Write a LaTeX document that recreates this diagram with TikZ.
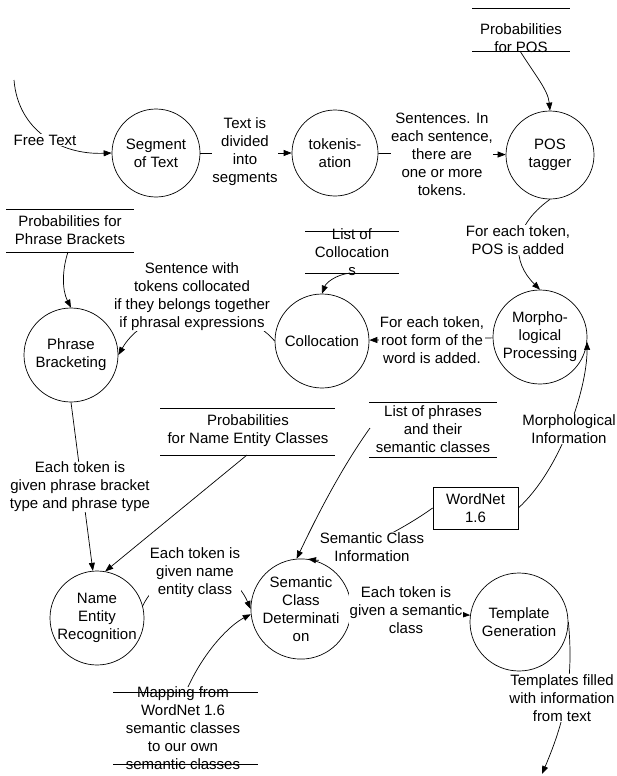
\documentclass[tikz,border=0pt]{standalone}
\usepackage{fontspec}
\setmainfont{Liberation Sans}
\usetikzlibrary{arrows.meta}
\begin{document}
\begin{tikzpicture}[x=1pt,y=-1pt,
  every node/.style={font=\fontsize{15}{18}\selectfont, align=center, inner sep=0pt},
  proc/.style={draw, circle, minimum size=#1, line width=0.7pt},
  lab/.style={fill=white, inner sep=0.5pt},
  arr/.style={line width=0.7pt, -{Triangle[length=8pt,width=6pt]}},
  storeline/.style={line width=0.7pt}]
\fill[white] (0,0) rectangle (617,776);
\useasboundingbox (0,0) rectangle (617,776);

% processes
\node[proc=88] (seg) at (156,153) {Segment\\of Text};
\node[proc=86] (tok) at (335,153) {tokenis-\\ation};
\node[proc=88] (pos) at (550,155) {POS\\tagger};
\node[proc=94] (phr) at (71,355) {Phrase\\Bracketing};
\node[proc=94] (col) at (322,341) {Collocation};
\node[proc=94] (mor) at (540,337) {Morpho-\\logical\\Processing};
\node[proc=94] (ner) at (97,618) {Name\\Entity\\Recognition};
\node[proc=92] (scd) at (301,609) {Semantic\\Class\\Determinati\\on};
\node[proc=98] (tmp) at (519,622) {Template\\Generation};
\node[draw, line width=0.7pt, minimum width=85, minimum height=42] (wn) at (475.5,508) {WordNet\\1.6};

% data stores
\node (ppos) at (521,38) {Probabilities\\for POS};
\draw[storeline] (472,8) -- (570,8) (472,51) -- (570,51);
\coordinate (pposb) at (520,51);

\node (pphr) at (70,230) {Probabilities for\\Phrase Brackets};
\draw[storeline] (6,209) -- (134,209) (6,252) -- (134,252);
\coordinate (pphrb) at (68,252);

\node (lcol) at (352,252) {List of\\Collocation\\s};
\draw[storeline] (305,231) -- (399,231) (305,273) -- (399,273);
\coordinate (lcolb) at (350,273);

\node (pnec) at (248,431) {Probabilities\\for Name Entity Classes};
\draw[storeline] (160,408) -- (335,408) (160,455) -- (335,455);
\coordinate (pnecb) at (247,455);

\node (lph) at (433,429) {List of phrases\\and their\\semantic classes};
\draw[storeline] (369,402) -- (497,402) (369,457) -- (497,457);
\coordinate (lphb) at (370,428);

\node (map) at (183,728) {Mapping from\\WordNet 1.6\\semantic classes\\to our own\\semantic classes};
\draw[storeline] (113,692) -- (258,692) (113,764) -- (258,764);
\coordinate (mapt) at (188,687);

% free ends
\coordinate (ftstart) at (14,80);
\coordinate (outc) at (542,774);

% connectors
\draw[arr] (ftstart) .. controls (18,130) and (60,155) .. (seg.west);
\draw[arr] (seg) -- (tok);
\draw[arr] (tok) -- (pos);
\draw[arr] (pposb) .. controls (535,75) and (548,90) .. (pos.north);
\draw[arr] (pos.south) .. controls (510,228) and (512,262) .. (mor.north);
\draw[arr] (mor) -- (col);
\draw[arr] (lcolb) .. controls (335,275) and (326,283) .. (col.north);
\draw[arr] (col.west) .. controls (240,300) and (150,300) .. (phr.east);
\draw[arr] (pphrb) .. controls (62,270) and (62,290) .. (phr.north);
\draw[arr] (phr.south) -- (ner.95);
\draw[arr] (pnecb) -- (ner.80);
\draw[arr] (ner.15) .. controls (165,560) and (230,560) .. (scd.180);
\draw[arr] (mapt) .. controls (205,650) and (230,625) .. (scd.186);
\draw[arr] (lphb) .. controls (340,470) and (315,520) .. (scd.95);
\draw[arr] (wn.west) .. controls (395,535) and (335,563) .. (scd.82);
\draw[arr] (wn.east) .. controls (560,470) and (587,390) .. (mor.-6);
\draw[arr] (scd.east) -- (tmp.172);
\draw[arr] (tmp.east) .. controls (574,680) and (565,720) .. (outc);

% connector labels
\node[lab] (ft) at (45,140) {Free Text};
\node[lab] (l1) at (245,152) {Text is\\divided\\into\\segments};
\node[lab] (l2) at (442,154) {Sentences. In\\each sentence,\\there are\\one or more\\tokens.};
\node[lab] (l3) at (518,240) {For each token,\\POS is added};
\node[lab] (l4) at (432,340) {For each token,\\root form of the\\word is added.};
\node[lab] (l5) at (192,297) {Sentence with\\tokens collocated\\if they belongs together\\if phrasal expressions};
\node[lab] (l6) at (80,487) {Each token is\\given phrase bracket\\type and phrase type};
\node[lab] (l7) at (195,573) {Each token is\\given name\\entity class};
\node[lab] (l8) at (372,547) {Semantic Class\\Information};
\node[lab] (l9) at (569,429) {Morphological\\Information};
\node[lab] (l10) at (406,610) {Each token is\\given a semantic\\class};
\node[lab] (l11) at (562,698) {Templates filled\\with information\\from text};
\end{tikzpicture}
\end{document}
